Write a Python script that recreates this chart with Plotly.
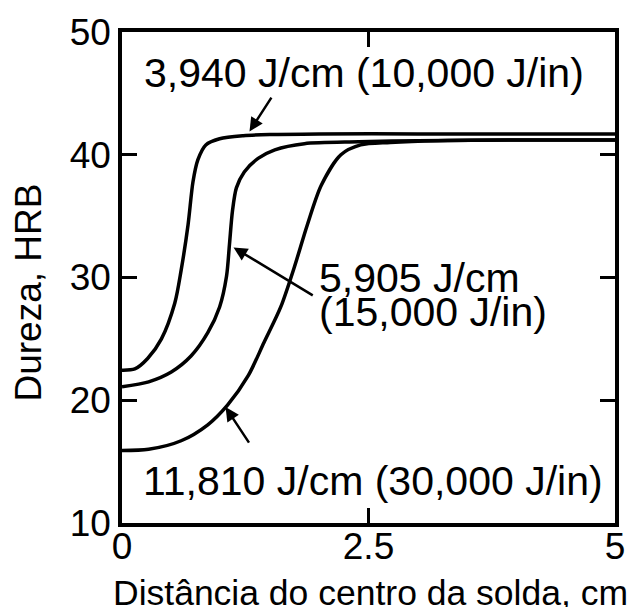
import plotly.graph_objects as go

# Hardness profiles across the weld for three heat inputs
dist_low = [0.0, 0.13, 0.26, 0.40, 0.535, 0.60, 0.67, 0.72, 0.77, 0.85, 0.99, 1.23, 1.5, 2.0, 3.0, 4.0, 5.0]
hrb_low = [22.45, 22.55, 23.4, 25.0, 27.9, 30.6, 34.3, 37.8, 39.6, 40.8, 41.3, 41.55, 41.65, 41.7, 41.7, 41.7, 41.7]

dist_mid = [0.0, 0.27, 0.50, 0.70, 0.87, 0.99, 1.06, 1.09, 1.12, 1.16, 1.24, 1.38, 1.55, 1.85, 2.4, 3.0, 4.0, 5.0]
hrb_mid = [21.1, 21.5, 22.3, 23.6, 25.5, 27.6, 30.1, 32.7, 35.4, 37.3, 38.6, 39.7, 40.4, 40.9, 41.05, 41.15, 41.2, 41.2]

dist_high = [0.0, 0.27, 0.60, 0.87, 1.07, 1.28, 1.44, 1.61, 1.75, 1.88, 2.02, 2.22, 2.42, 2.72, 3.2, 4.0, 5.0]
hrb_high = [15.9, 16.0, 16.7, 18.0, 19.6, 22.0, 24.7, 27.6, 30.9, 34.3, 37.5, 40.0, 40.8, 41.0, 41.15, 41.2, 41.2]

x_range = [0, 5]
y_range = [10, 50]
x_ticks = [0, 2.5, 5]
x_tick_text = ["0", "2.5", "5"]
y_ticks = [10, 20, 30, 40, 50]

labels = ["3,940 J/cm (10,000 J/in)", "5,905 J/cm", "(15,000 J/in)", "11,810 J/cm (30,000 J/in)"]
x_title = "Distância do centro da solda, cm"
y_title = "Dureza, HRB"

FONT = "Liberation Sans, Arial, Helvetica, sans-serif"
TICKFONT = dict(family=FONT, size=37, color="black")

fig = go.Figure()
for xs, ys in [(dist_low, hrb_low), (dist_mid, hrb_mid), (dist_high, hrb_high)]:
    fig.add_trace(go.Scatter(x=xs, y=ys, mode="lines",
                             line=dict(color="black", width=3.5, shape="spline", smoothing=0.8),
                             showlegend=False, hoverinfo="skip"))
# empty trace so the label-only companion axis is rendered
fig.add_trace(go.Scatter(x=[], y=[], xaxis="x2", yaxis="y", mode="none",
                         showlegend=False, hoverinfo="skip"))

axis_common = dict(showline=True, linecolor="black", linewidth=3.5, mirror="ticks",
                   ticks="inside", ticklen=15, tickwidth=3, tickcolor="black",
                   showgrid=False, zeroline=False, tickfont=TICKFONT)

# frame and inward ticks; the bottom labels come from a companion axis set a little higher
fig.update_xaxes(range=x_range, tickvals=x_ticks, showticklabels=False, **axis_common)
fig.update_yaxes(range=y_range, tickvals=y_ticks, **axis_common)

fig.update_layout(xaxis2=dict(overlaying="x", range=x_range, anchor="free",
                              position=0.004, side="bottom", tickvals=x_ticks,
                              ticktext=x_tick_text, ticks="", showline=False,
                              showgrid=False, zeroline=False, tickfont=TICKFONT))

ann = []
# curve labels
ann.append(dict(x=0.212, y=46.7, text=labels[0], xanchor="left", yanchor="middle"))
ann.append(dict(x=1.99, y=30.0, text=labels[1], xanchor="left", yanchor="middle"))
ann.append(dict(x=1.99, y=27.2, text=labels[2], xanchor="left", yanchor="middle"))
ann.append(dict(x=0.205, y=13.4, text=labels[3], xanchor="left", yanchor="middle"))
for a in ann:
    a.update(xref="x", yref="y", showarrow=False, borderpad=0,
             font=dict(family=FONT, size=41, color="black"))

# pointer arrows: (head x, head y, tail x, tail y)
arrows = [(1.293, 41.9, 1.525, 44.78), (1.131, 32.45, 1.95, 28.47), (1.05, 19.44, 1.298, 16.43)]
for hx, hy, tx, ty in arrows:
    ann.append(dict(x=hx, y=hy, ax=tx, ay=ty, xref="x", yref="y", axref="x", ayref="y",
                    text="", showarrow=True, arrowhead=2, arrowsize=1.1, arrowwidth=2.5,
                    arrowcolor="black"))

# axis titles
ann.append(dict(x=0.505, y=-0.142, xref="paper", yref="paper", text=x_title, showarrow=False,
                xanchor="center", yanchor="middle", borderpad=0,
                font=dict(family=FONT, size=35.5, color="black")))
ann.append(dict(x=-0.19, y=0.47, xref="paper", yref="paper", text=y_title, showarrow=False,
                textangle=-90, xanchor="center", yanchor="middle",
                font=dict(family=FONT, size=37, color="black")))

fig.update_layout(width=637, height=607, margin=dict(l=122, r=20, t=25, b=84),
                  paper_bgcolor="white", plot_bgcolor="white", annotations=ann)

fig.write_html("out.html")
